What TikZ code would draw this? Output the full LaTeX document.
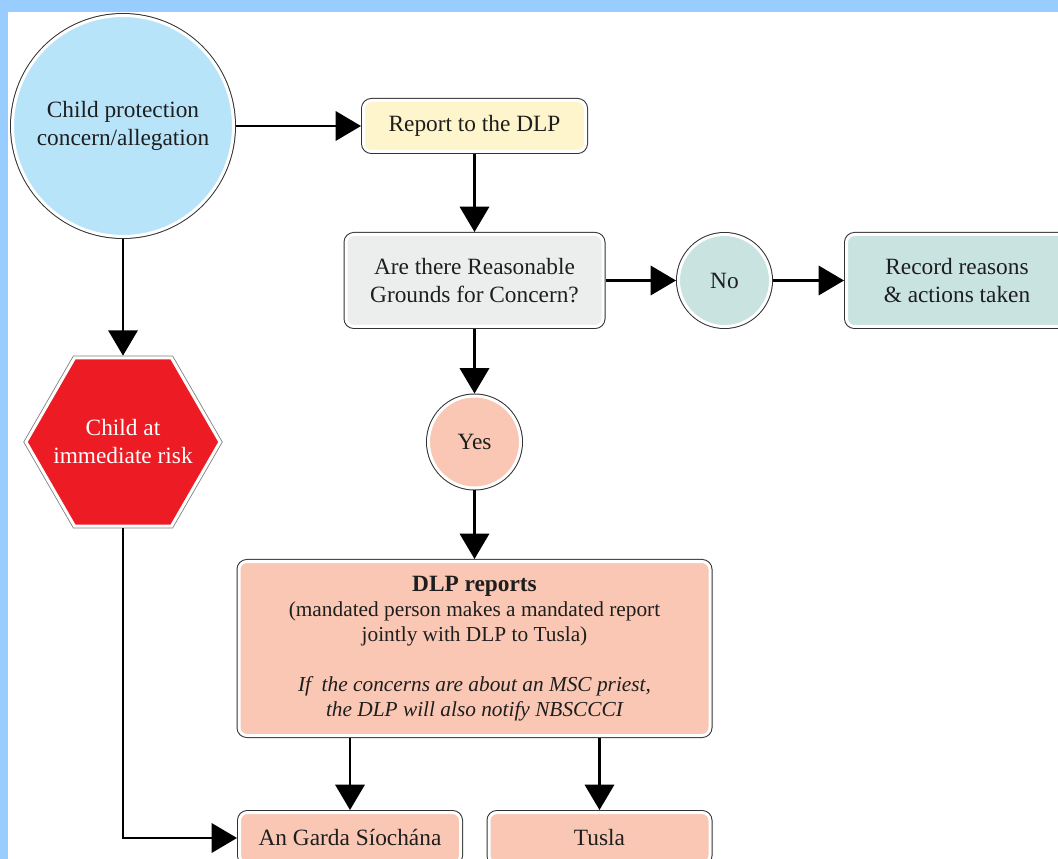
\documentclass[tikz,border=0pt]{standalone}
\usepackage{fontspec}
\setmainfont{Liberation Serif}
\usetikzlibrary{shapes.geometric,arrows.meta}
\definecolor{bgblue}{RGB}{153,204,255}
\definecolor{cpblue}{RGB}{184,228,249}
\definecolor{repyel}{RGB}{255,245,204}
\definecolor{qgrey}{RGB}{236,238,237}
\definecolor{teal}{RGB}{200,227,224}
\definecolor{salmon}{RGB}{249,199,179}
\definecolor{riskred}{RGB}{237,28,36}
\definecolor{edge}{RGB}{50,50,50}
\definecolor{txt}{RGB}{30,30,30}
\begin{document}
\begin{tikzpicture}[x=0.75pt,y=-0.75pt,
  boxbase/.style={draw=white, line width=2.25pt,
    preaction={draw=edge, line width=3.75pt},
    outer sep=1.875pt, inner sep=0pt, align=center, text=txt,
    font=\fontsize{17.5}{21}\selectfont},
  rbox/.style={boxbase, rectangle, rounded corners=6pt, fill=#1},
  cbox/.style={boxbase, circle, fill=#1},
  hexbox/.style={regular polygon, regular polygon sides=6, inner sep=0pt,
    fill=riskred, draw=white, line width=2.25pt,
    preaction={draw=gray, line width=3.5pt}, outer sep=1.75pt},
  hextext/.style={align=center, text=white, inner sep=0pt,
    font=\fontsize{17.5}{21}\selectfont},
  arr/.style={-{Triangle[length=19pt,width=22pt]}, line width=1.8pt, black}
]
\useasboundingbox (0,0) rectangle (1058,859);
\clip (0,0) rectangle (1058,859);
\fill[bgblue] (0,0) rectangle (1058,859);
\fill[white] (8,12) rectangle (1058,859);

\node[cbox=cpblue, minimum size=165.75pt] (cp) at (123,126) {Child protection\\concern/allegation};
\node[rbox=repyel, minimum width=166.5pt, minimum height=38.25pt] (rep) at (474.5,126) {Report to the DLP};
\node[rbox=qgrey, minimum width=192.75pt, minimum height=69pt] (q) at (474.5,280.5) {Are there Reasonable\\Grounds for Concern?};
\node[cbox=teal, minimum size=69pt] (no) at (724.5,280.5) {No};
\node[rbox=teal, minimum width=165.75pt, minimum height=69pt] (rec) at (957,280.5) {Record reasons\\\& actions taken};
\node[cbox=salmon, minimum size=69pt] (yes) at (474.5,442) {Yes};
\node[rbox=salmon, minimum width=353.25pt, minimum height=130.5pt,
  font=\fontsize{16}{18.75}\selectfont] (dlp) at (474.5,648.5)
  {{\fontsize{17.5}{18.75}\selectfont\bfseries DLP reports}\\
   (mandated person makes a mandated report\\
   jointly with DLP to Tusla)\\[18.75pt]
   \itshape If~ the concerns are about an MSC priest,\\
   \itshape the DLP will also notify NBSCCCI};
\node[rbox=salmon, minimum width=165.75pt, minimum height=38.25pt] (garda) at (350,838) {An Garda Síochána};
\node[rbox=salmon, minimum width=165.75pt, minimum height=38.25pt] (tusla) at (599.5,838) {Tusla};
\node[hexbox, minimum size=145.5pt] (hex) at (123,442) {};
\node[hextext] (hext) at (hex.center) {Child at\\immediate risk};

\draw[arr] (cp) -- (rep);
\draw[arr] (rep) -- (q);
\draw[arr] (q) -- (no);
\draw[arr] (no) -- (rec);
\draw[arr] (q) -- (yes);
\draw[arr] (yes) -- (dlp);
\draw[arr] (dlp.south -| garda.north) -- (garda.north);
\draw[arr] (dlp.south -| tusla.north) -- (tusla.north);
\draw[arr] (cp) -- (hex);
\draw[arr] (hex.south) |- (garda.west);
\end{tikzpicture}
\end{document}
